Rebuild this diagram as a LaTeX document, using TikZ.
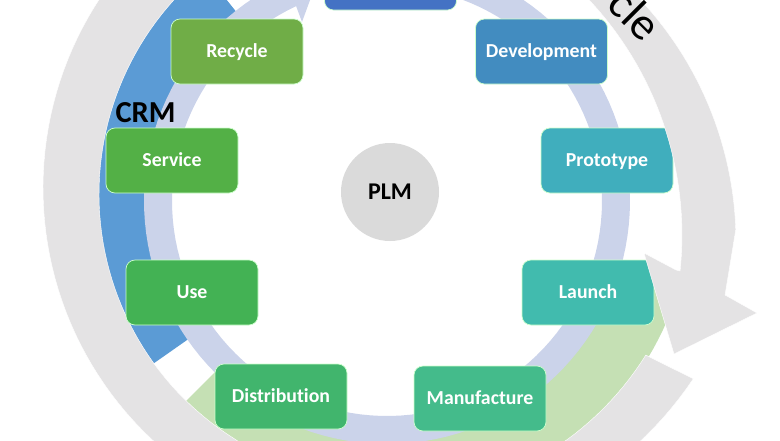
\documentclass[tikz,border=0pt]{standalone}
\usepackage{fontspec}
\setmainfont[Ligatures=CommonOff]{Carlito}
\definecolor{ringgray}{HTML}{E4E3E4}
\definecolor{ringblue}{HTML}{5B9BD5}
\definecolor{ringlav}{HTML}{CBD3EA}
\definecolor{ringgreen}{HTML}{C5E0B4}
\definecolor{plmgray}{HTML}{DADADA}
\definecolor{colprod}{HTML}{4472C4}
\definecolor{coldev}{HTML}{428CC0}
\definecolor{colproto}{HTML}{40AEBD}
\definecolor{collaunch}{HTML}{41BBAE}
\definecolor{colmanu}{HTML}{44BB8B}
\definecolor{coldist}{HTML}{41B56D}
\definecolor{coluse}{HTML}{43B254}
\definecolor{colserv}{HTML}{53B046}
\definecolor{colrec}{HTML}{70AD47}
\tikzset{
    x=1pt, y=-1pt,
    stage/.style={draw=white!80!green, line width=0.7pt, rounded corners=9pt, minimum width=132pt, minimum height=65pt, inner sep=0pt, text=white, text height=15pt, text depth=4pt, font=\fontsize{19.8}{22}\selectfont\bfseries},
}
\begin{document}
\begin{tikzpicture}
    \useasboundingbox (0,0) rectangle (780,440);
    \clip (0,0) rectangle (780,440);
    % coloured bands
    \fill[ringblue] plot[domain=215:128.7, samples=50] ({387+300*cos(\x)},{200-300*sin(\x)}) -- plot[domain=128.7:215, samples=50] ({387+235*cos(\x)},{200-235*sin(\x)}) -- cycle;
    \fill[ringgreen] plot[domain=225:345, samples=60] ({387+305*cos(\x)},{200-305*sin(\x)}) -- plot[domain=345:225, samples=60] ({387+235*cos(\x)},{200-235*sin(\x)}) -- cycle;
    % inner band with its head
    \fill[ringlav] plot[domain=75:-245, samples=120] ({387+243*cos(\x)},{201-243*sin(\x)}) -- (275,-35) -- (317,-19) -- (302,22) -- plot[domain=-245:75, samples=120] ({387+215*cos(\x)},{201-215*sin(\x)}) -- cycle;
    \node (plm) at (390,192) [circle, fill=plmgray, minimum size=98pt, inner sep=0pt, font=\fontsize{24}{28}\selectfont\bfseries] {PLM};
    \foreach \name/\x/\y/\col/\txt in {proto/607/160.5/colproto/Prototype, launch/588/292.5/collaunch/Launch}
        \node (\name) at (\x,\y) [stage, fill=\col] {\txt};
    % outer band with its head
    \fill[ringgray, draw=white, line width=0.4pt] plot[domain=-32:-110, samples=40] ({388+(345+15*(\x+110)/78)*cos(\x)},{188-(345+15*(\x+110)/78)*sin(\x)})
        -- plot[domain=-110:-245, samples=70] ({388+345*cos(\x)},{188-345*sin(\x)})
        -- plot[domain=60:2, samples=40] ({381+355*cos(\x)},{242-355*sin(\x)})
        -- (725,295) -- (757,313) -- (674,354) -- (644,253) -- (676,270)
        -- plot[domain=-6:55, samples=40] ({338+344*cos(\x)},{235-344*sin(\x)})
        -- plot[domain=110:238, samples=70] ({388+289*cos(\x)},{194-289*sin(\x)})
        -- plot[domain=-122:-32, samples=50] ({388+(289+min(15,15*(\x+122)/68))*cos(\x)},{194-(289+min(15,15*(\x+122)/68))*sin(\x)}) -- cycle;
    \foreach \name/\x/\y/\col/\txt in {prod/390.5/-22.5/colprod/{}, dev/541.5/51.5/coldev/Development, manu/480/398.5/colmanu/Manufacture, dist/281/396.5/coldist/Distribution, use/192/292.5/coluse/Use, serv/172/160.5/colserv/Service, rec/237/51.5/colrec/Recycle}
        \node (\name) at (\x,\y) [stage, fill=\col] {\txt};
    \node (crm) at (145.5,113) [font=\fontsize{30.5}{34}\selectfont\bfseries] {CRM};
    \node (cle) at (624,25) [anchor=base, rotate=-45, inner sep=0pt, font=\fontsize{46}{50}\selectfont] {cle};
\end{tikzpicture}
\end{document}
